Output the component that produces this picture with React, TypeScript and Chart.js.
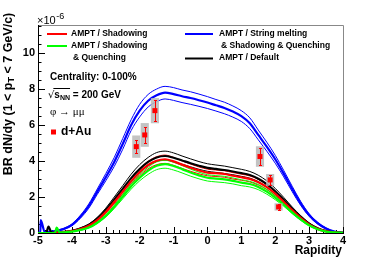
import React, { useEffect, useRef } from "react";
import { Chart, registerables } from "chart.js";
Chart.register(...registerables);

// ---- data ----
const rapidity = [-4.5, -4.25, -4, -3.75, -3.5, -3.25, -3, -2.75, -2.5, -2.25, -2, -1.75, -1.5, -1.25, -1, -0.75, -0.5, -0.25, 0, 0.25, 0.5, 0.75, 1, 1.25, 1.5, 1.75, 2, 2.25, 2.5, 2.75, 3, 3.25, 3.5, 3.75, 4];

const blueCenter = [0.1, 0.22, 0.45, 0.9, 1.5, 2.3, 3.1, 3.95, 4.95, 6.0, 6.8, 7.35, 7.65, 7.8, 7.72, 7.6, 7.5, 7.38, 7.25, 7.1, 6.95, 6.75, 6.5, 6.1, 5.45, 4.8, 4.1, 3.3, 2.45, 1.65, 1.0, 0.55, 0.25, 0.08, 0.02];
const blueUpper = [0.12, 0.25, 0.5, 0.98, 1.62, 2.45, 3.3, 4.2, 5.25, 6.3, 7.15, 7.7, 8.0, 8.15, 8.08, 7.95, 7.85, 7.72, 7.58, 7.42, 7.27, 7.06, 6.8, 6.4, 5.72, 5.05, 4.32, 3.48, 2.6, 1.76, 1.07, 0.6, 0.28, 0.09, 0.02];
const blueLower = [0.08, 0.19, 0.4, 0.82, 1.38, 2.15, 2.9, 3.7, 4.65, 5.7, 6.45, 7.0, 7.3, 7.45, 7.37, 7.25, 7.15, 7.04, 6.92, 6.78, 6.63, 6.44, 6.2, 5.8, 5.18, 4.55, 3.88, 3.12, 2.3, 1.54, 0.93, 0.5, 0.22, 0.07, 0.02];

const blackCenter = [0.02, 0.06, 0.12, 0.25, 0.45, 0.8, 1.28, 1.85, 2.45, 3.05, 3.55, 3.95, 4.2, 4.28, 4.18, 4.03, 3.88, 3.74, 3.62, 3.56, 3.5, 3.42, 3.33, 3.22, 3.02, 2.72, 2.32, 1.85, 1.35, 0.9, 0.52, 0.26, 0.11, 0.04, 0.01];
const blackUpper = [0.03, 0.07, 0.14, 0.28, 0.5, 0.87, 1.38, 2.0, 2.63, 3.27, 3.8, 4.2, 4.47, 4.55, 4.45, 4.28, 4.12, 3.97, 3.85, 3.78, 3.72, 3.63, 3.54, 3.42, 3.21, 2.9, 2.48, 1.98, 1.45, 0.97, 0.56, 0.28, 0.12, 0.04, 0.01];
const blackLower = [0.02, 0.05, 0.11, 0.23, 0.42, 0.75, 1.2, 1.74, 2.3, 2.88, 3.36, 3.74, 3.98, 4.05, 3.96, 3.82, 3.68, 3.54, 3.43, 3.37, 3.31, 3.24, 3.15, 3.05, 2.86, 2.57, 2.19, 1.75, 1.27, 0.85, 0.49, 0.24, 0.1, 0.04, 0.01];

const redCenter = [0.02, 0.05, 0.1, 0.22, 0.4, 0.72, 1.17, 1.72, 2.3, 2.88, 3.38, 3.78, 4.02, 4.1, 3.98, 3.8, 3.63, 3.48, 3.36, 3.32, 3.28, 3.18, 3.1, 3.0, 2.82, 2.55, 2.18, 1.74, 1.27, 0.84, 0.48, 0.23, 0.09, 0.03, 0.01];
const redUpper = [0.02, 0.05, 0.11, 0.23, 0.42, 0.76, 1.24, 1.82, 2.43, 3.04, 3.57, 3.99, 4.24, 4.33, 4.2, 4.01, 3.83, 3.67, 3.55, 3.5, 3.46, 3.36, 3.27, 3.17, 2.98, 2.69, 2.3, 1.84, 1.34, 0.89, 0.51, 0.24, 0.1, 0.03, 0.01];
const redLower = [0.02, 0.05, 0.09, 0.21, 0.38, 0.68, 1.1, 1.62, 2.17, 2.72, 3.19, 3.57, 3.8, 3.87, 3.76, 3.59, 3.43, 3.29, 3.18, 3.14, 3.1, 3.0, 2.93, 2.84, 2.66, 2.41, 2.06, 1.64, 1.2, 0.79, 0.45, 0.22, 0.09, 0.03, 0.01];

const greenCenter = [0.01, 0.03, 0.08, 0.17, 0.3, 0.57, 0.95, 1.45, 2.02, 2.6, 3.08, 3.47, 3.74, 3.83, 3.72, 3.55, 3.36, 3.2, 3.07, 3.02, 2.98, 2.9, 2.8, 2.72, 2.56, 2.3, 1.97, 1.58, 1.15, 0.76, 0.43, 0.21, 0.08, 0.03, 0.01];
const greenUpper = [0.01, 0.03, 0.09, 0.18, 0.32, 0.61, 1.01, 1.54, 2.14, 2.75, 3.25, 3.66, 3.95, 4.04, 3.93, 3.75, 3.55, 3.38, 3.24, 3.19, 3.15, 3.06, 2.96, 2.87, 2.7, 2.43, 2.08, 1.67, 1.21, 0.8, 0.45, 0.22, 0.08, 0.03, 0.01];
const greenLower = [0.01, 0.03, 0.07, 0.16, 0.28, 0.54, 0.89, 1.37, 1.9, 2.44, 2.9, 3.26, 3.52, 3.6, 3.5, 3.34, 3.16, 3.01, 2.89, 2.84, 2.8, 2.73, 2.63, 2.56, 2.41, 2.16, 1.85, 1.49, 1.08, 0.71, 0.4, 0.2, 0.08, 0.03, 0.01];

// leading spikes near y = -5
const blueHeadX = [-5, -4.93, -4.92, -4.8, -4.68];
const blueHeadY = [0.02, 0.02, 0.72, 0.05, 0.06];
const blackHeadX = [-5, -4.76, -4.69, -4.6, -4.55];
const blackHeadY = [0, 0, 0.36, 0.02, 0.02];
const greenHeadX = [-5, -4.5, -4.45, -4.36, -4.3];
const greenHeadY = [0, 0, 0.3, 0.03, 0.03];
const redHeadX = [-5, -4.6];
const redHeadY = [0, 0];

// d+Au data
const dataX = [-2.1, -1.85, -1.55, 1.55, 1.85, 2.1];
const dataY = [4.8, 5.45, 6.8, 4.25, 2.95, 1.45];
const statErr = [0.37, 0.46, 0.6, 0.47, 0.28, 0.18];
const sysErr = [0.62, 0.66, 0.7, 0.57, 0.33, 0.2];
const sysHalfWidth = 0.12;

const xTicks = [-5, -4, -3, -2, -1, 0, 1, 2, 3, 4];
const yTicks = [0, 2, 4, 6, 8, 10];
const xMinorStep = 0.2;
const yMinorStep = 0.5;

// ---- helpers ----
function pts(xs: number[], ys: number[]) {
  return xs.map((x, i) => ({ x, y: ys[i] }));
}
function withHead(hx: number[], hy: number[], ys: number[]) {
  const last = hx[hx.length - 1];
  const head = pts(hx, hy);
  const rest = pts(rapidity, ys).filter((p) => p.x > last);
  return head.concat(rest);
}

const BOLD = "'Liberation Sans', Arial, Helvetica, sans-serif";

const decorPlugin = {
  id: "decor",
  beforeDatasetsDraw(chart: any) {
    const { ctx, chartArea: a, scales } = chart;
    const x = scales.x, y = scales.y;
    ctx.save();
    // frame
    ctx.lineWidth = 1;
    ctx.strokeStyle = "#888";
    ctx.beginPath();
    ctx.moveTo(a.left, a.top + 0.5);
    ctx.lineTo(a.right + 0.5, a.top + 0.5);
    ctx.lineTo(a.right + 0.5, a.bottom);
    ctx.stroke();
    ctx.strokeStyle = "#000";
    ctx.beginPath();
    ctx.moveTo(a.left + 0.5, a.top);
    ctx.lineTo(a.left + 0.5, a.bottom + 0.5);
    ctx.lineTo(a.right + 1, a.bottom + 0.5);
    ctx.stroke();
    // x ticks
    ctx.beginPath();
    const xmin = x.min, xmax = x.max;
    for (let v = xmin; v <= xmax + 1e-6; v += xMinorStep) {
      const px = Math.round(x.getPixelForValue(v)) + 0.5;
      const major = Math.abs(v - Math.round(v)) < 1e-6;
      ctx.moveTo(px, a.bottom);
      ctx.lineTo(px, a.bottom - (major ? 6 : 3));
    }
    // y ticks
    for (let v = 0; v <= y.max + 1e-6; v += yMinorStep) {
      const py = Math.round(y.getPixelForValue(v)) + 0.5;
      const major = Math.abs(v / 2 - Math.round(v / 2)) < 1e-6;
      ctx.moveTo(a.left, py);
      ctx.lineTo(a.left + (major ? 7 : 3.5), py);
    }
    ctx.stroke();
    // labels
    ctx.fillStyle = "#000";
    ctx.font = `bold 11px ${BOLD}`;
    ctx.textAlign = "center";
    ctx.textBaseline = "middle";
    xTicks.forEach((t) => ctx.fillText(String(t), x.getPixelForValue(t), 241));
    ctx.textAlign = "right";
    yTicks.forEach((t) => ctx.fillText(String(t), 35, y.getPixelForValue(t)));
    // exponent
    ctx.textAlign = "left";
    ctx.textBaseline = "alphabetic";
    ctx.font = `11px ${BOLD}`;
    ctx.fillText("\u00d710", 37, 24);
    const w = ctx.measureText("\u00d710").width;
    ctx.font = `9px ${BOLD}`;
    ctx.fillText("-6", 37 + w + 0.5, 19);
    // x title
    ctx.font = `bold 12px ${BOLD}`;
    ctx.textAlign = "right";
    ctx.textBaseline = "middle";
    ctx.fillText("Rapidity", 342, 251);
    // y title
    ctx.save();
    ctx.translate(8.5, 94);
    ctx.rotate(-Math.PI / 2);
    const f1 = `bold 12.5px ${BOLD}`;
    const f2 = `bold 9px ${BOLD}`;
    const parts: [string, string, number][] = [["BR dN/dy (1 < p", f1, 0], ["T", f2, 3], [" < 7 GeV/c)", f1, 0]];
    let total = 0;
    parts.forEach(([s, f]) => { ctx.font = f; total += ctx.measureText(s).width; });
    let cx = -total / 2;
    ctx.textAlign = "left";
    parts.forEach(([s, f, dy]) => { ctx.font = f; ctx.fillText(s, cx, dy); cx += ctx.measureText(s).width; });
    ctx.restore();
    ctx.restore();
  },
  afterDatasetsDraw(chart: any) {
    const { ctx, scales } = chart;
    const x = scales.x, y = scales.y;
    ctx.save();
    // systematic boxes
    ctx.fillStyle = "rgba(185,185,185,0.85)";
    dataX.forEach((dx, i) => {
      const l = x.getPixelForValue(dx - sysHalfWidth);
      const r = x.getPixelForValue(dx + sysHalfWidth);
      const t = y.getPixelForValue(dataY[i] + sysErr[i]);
      const b = y.getPixelForValue(dataY[i] - sysErr[i]);
      ctx.fillRect(l, t, r - l, b - t);
    });
    // stat error bars
    ctx.strokeStyle = "#ff0000";
    ctx.lineWidth = 1;
    ctx.beginPath();
    dataX.forEach((dx, i) => {
      const px = Math.round(x.getPixelForValue(dx)) + 0.5;
      const t = Math.round(y.getPixelForValue(dataY[i] + statErr[i])) + 0.5;
      const b = Math.round(y.getPixelForValue(dataY[i] - statErr[i])) + 0.5;
      ctx.moveTo(px, t); ctx.lineTo(px, b);
      ctx.moveTo(px - 1.5, t); ctx.lineTo(px + 1.5, t);
      ctx.moveTo(px - 1.5, b); ctx.lineTo(px + 1.5, b);
    });
    ctx.stroke();
    ctx.fillStyle = "#ff0000";
    dataX.forEach((dx, i) => {
      const px = x.getPixelForValue(dx);
      const py = y.getPixelForValue(dataY[i]);
      ctx.fillRect(px - 2.5, py - 2.5, 5, 5);
    });

    // legends
    ctx.lineWidth = 2;
    const line = (c: string, x0: number, x1: number, yy: number) => {
      ctx.strokeStyle = c;
      ctx.beginPath();
      ctx.moveTo(x0, yy);
      ctx.lineTo(x1, yy);
      ctx.stroke();
    };
    line("#ff0000", 47, 67, 34);
    line("#00ff00", 47, 67, 46);
    line("#0000ff", 185, 213, 34);
    line("#000000", 185, 213, 58.5);
    ctx.fillStyle = "#000";
    ctx.font = `bold 8.5px ${BOLD}`;
    ctx.textAlign = "left";
    ctx.textBaseline = "middle";
    ctx.fillText("AMPT / Shadowing", 71, 34);
    ctx.fillText("AMPT / Shadowing", 71, 46);
    ctx.fillText("& Quenching", 73, 57.5);
    ctx.fillText("AMPT / String melting", 219, 34);
    ctx.fillText("& Shadowing & Quenching", 221, 45.5);
    ctx.fillText("AMPT / Default", 219, 58);

    // annotations
    ctx.font = `bold 10px ${BOLD}`;
    ctx.fillText("Centrality: 0-100%", 50, 77);
    // sqrt(s_NN)
    ctx.font = `10px 'DejaVu Sans', sans-serif`;
    ctx.fillText("\u221a", 48, 95.5);
    let sx = 48 + ctx.measureText("\u221a").width;
    ctx.font = `bold 10px ${BOLD}`;
    ctx.fillText("s", sx, 95);
    const sw = ctx.measureText("s").width;
    ctx.font = `bold 7px ${BOLD}`;
    ctx.fillText("NN", sx + sw, 98);
    const nw = ctx.measureText("NN").width;
    ctx.strokeStyle = "#000";
    ctx.lineWidth = 1;
    ctx.beginPath();
    ctx.moveTo(sx - 1, 88.5);
    ctx.lineTo(sx + sw + nw, 88.5);
    ctx.stroke();
    ctx.font = `bold 10px ${BOLD}`;
    ctx.fillText(" = 200 GeV", sx + sw + nw, 95);
    ctx.font = `11px 'Liberation Serif', 'DejaVu Serif', serif`;
    ctx.fillText("\u03c6 \u2192 \u03bc\u03bc", 50, 112);
    ctx.fillStyle = "#ff0000";
    ctx.fillRect(51, 129.5, 5, 5);
    ctx.fillStyle = "#000";
    ctx.font = `bold 12px ${BOLD}`;
    ctx.fillText("d+Au", 61, 132);
    ctx.restore();
  },
};

export default function App() {
  const ref = useRef<HTMLCanvasElement | null>(null);
  useEffect(() => {
    if (!ref.current) return;
    const thick = 2.2;
    const thin = 1;
    const ds = (data: any[], color: string, width: number) => ({
      data,
      borderColor: color,
      backgroundColor: color,
      borderWidth: width,
      pointRadius: 0,
      showLine: true,
      fill: false,
      cubicInterpolationMode: "monotone" as const,
    });
    const chart = new Chart(ref.current, {
      type: "scatter",
      data: {
        datasets: [
          ds(withHead(greenHeadX, greenHeadY, greenCenter), "#00ff00", thick),
          ds(withHead(redHeadX, redHeadY, redCenter), "#ff0000", thick),
          ds(withHead(blackHeadX, blackHeadY, blackCenter), "#000000", thick),
          ds(withHead(blueHeadX, blueHeadY, blueCenter), "#0000ff", thick),
          ds(pts(rapidity, greenUpper), "#00ff00", thin),
          ds(pts(rapidity, greenLower), "#00ff00", thin),
          ds(pts(rapidity, redUpper), "#ff0000", thin),
          ds(pts(rapidity, redLower), "#ff0000", thin),
          ds(pts(rapidity, blackUpper), "#000000", thin),
          ds(pts(rapidity, blackLower), "#000000", thin),
          ds(pts(rapidity, blueUpper), "#0000ff", thin),
          ds(pts(rapidity, blueLower), "#0000ff", thin),
        ],
      },
      options: {
        animation: false,
        responsive: false,
        devicePixelRatio: 1,
        layout: { padding: { left: 38, top: 25, right: 39, bottom: 27 } },
        plugins: { legend: { display: false }, tooltip: { enabled: false } },
        scales: {
          x: { type: "linear", min: -5, max: 4, display: false },
          y: { type: "linear", min: 0, max: 11.56, display: false },
        },
      },
      plugins: [decorPlugin],
    });
    return () => chart.destroy();
  }, []);
  return (
    <div style={{ position: "absolute", left: 0, top: 0, width: 382, height: 260, background: "#fff" }}>
      <canvas ref={ref} width={382} height={260} style={{ display: "block", width: 382, height: 260 }} />
    </div>
  );
}
